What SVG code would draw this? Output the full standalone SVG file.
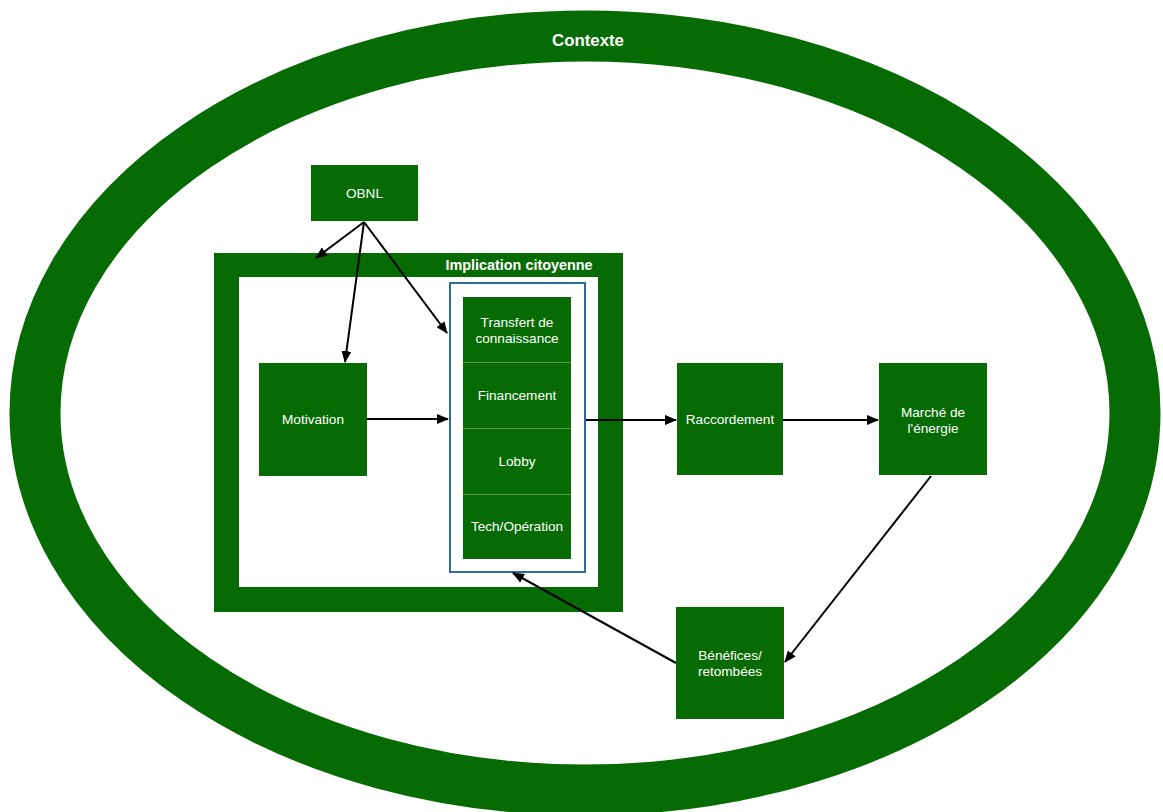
<svg xmlns="http://www.w3.org/2000/svg" width="1163" height="812" viewBox="0 0 1163 812">
  <style>
    .box { fill: #076b04; }
    .lbl { fill: #ffffff; font-family: "Liberation Sans", Arial, sans-serif; font-size: 13.6px; text-anchor: middle; }
    .title { fill: #ffffff; font-family: "Liberation Sans", Arial, sans-serif; font-weight: bold; text-anchor: middle; }
    .edge { fill: none; stroke: #000000; stroke-width: 2; marker-end: url(#arrow); }
    .sep { stroke: #4f9a4c; stroke-width: 1; }
  </style>
  <defs>
    <marker id="arrow" viewBox="0 0 12 10" refX="11" refY="5" markerWidth="12" markerHeight="10" markerUnits="userSpaceOnUse" orient="auto">
      <path d="M0,0 L12,5 L0,10 Z" fill="#000000"/>
    </marker>
  </defs>
  <rect width="1163" height="812" fill="#ffffff"/>

  <!-- outer context ring -->
  <g id="contexte">
    <ellipse cx="585" cy="413" rx="550" ry="377" fill="none" stroke="#076b04" stroke-width="51"/>
    <text class="title" x="588" y="46" font-size="16.8">Contexte</text>
  </g>

  <!-- citizen involvement frame -->
  <g id="implication">
    <rect x="214" y="253" width="409" height="359" fill="#076b04"/>
    <rect x="239" y="277" width="359" height="310" fill="#ffffff"/>
    <text class="title" x="519" y="269.5" font-size="14.4">Implication citoyenne</text>
  </g>

  <!-- grouped activities -->
  <g id="activites">
    <rect x="450" y="283" width="135" height="289" fill="#ffffff" stroke="#2e6a9e" stroke-width="2"/>
    <rect class="box" x="463" y="297" width="108" height="262"/>
    <line class="sep" x1="463" y1="362.5" x2="571" y2="362.5"/>
    <line class="sep" x1="463" y1="428.5" x2="571" y2="428.5"/>
    <line class="sep" x1="463" y1="494.5" x2="571" y2="494.5"/>
  </g>
  <g id="transfert">
    <text class="lbl" x="517" y="327">Transfert de</text>
    <text class="lbl" x="517" y="343">connaissance</text>
  </g>
  <g id="financement">
    <text class="lbl" x="517" y="400">Financement</text>
  </g>
  <g id="lobby">
    <text class="lbl" x="517" y="466">Lobby</text>
  </g>
  <g id="tech">
    <text class="lbl" x="517" y="531">Tech/Opération</text>
  </g>

  <g id="obnl">
    <rect class="box" x="311" y="165" width="107" height="56"/>
    <text class="lbl" x="364.5" y="197.5">OBNL</text>
  </g>

  <g id="motivation">
    <rect class="box" x="259" y="363" width="108" height="113"/>
    <text class="lbl" x="313" y="424">Motivation</text>
  </g>

  <g id="raccordement">
    <rect class="box" x="677" y="363" width="106" height="112"/>
    <text class="lbl" x="730" y="424">Raccordement</text>
  </g>

  <g id="marche">
    <rect class="box" x="879" y="363" width="108" height="112"/>
    <text class="lbl" x="933" y="417">Marché de</text>
    <text class="lbl" x="933" y="433">l'énergie</text>
  </g>

  <g id="benefices">
    <rect class="box" x="676" y="607" width="108" height="112"/>
    <text class="lbl" x="730" y="660">Bénéfices/</text>
    <text class="lbl" x="730" y="676">retombées</text>
  </g>

  <!-- connectors -->
  <g id="connectors">
    <line class="edge" x1="364" y1="222" x2="316" y2="258"/>
    <line class="edge" x1="364" y1="222" x2="345" y2="362"/>
    <line class="edge" x1="364" y1="222" x2="447" y2="333"/>
    <line class="edge" x1="367" y1="419" x2="448" y2="419"/>
    <line class="edge" x1="586" y1="420" x2="676" y2="420"/>
    <line class="edge" x1="783" y1="420" x2="878" y2="420"/>
    <line class="edge" x1="931" y1="476" x2="785" y2="662"/>
    <line class="edge" x1="676" y1="663" x2="513" y2="573"/>
  </g>
</svg>
